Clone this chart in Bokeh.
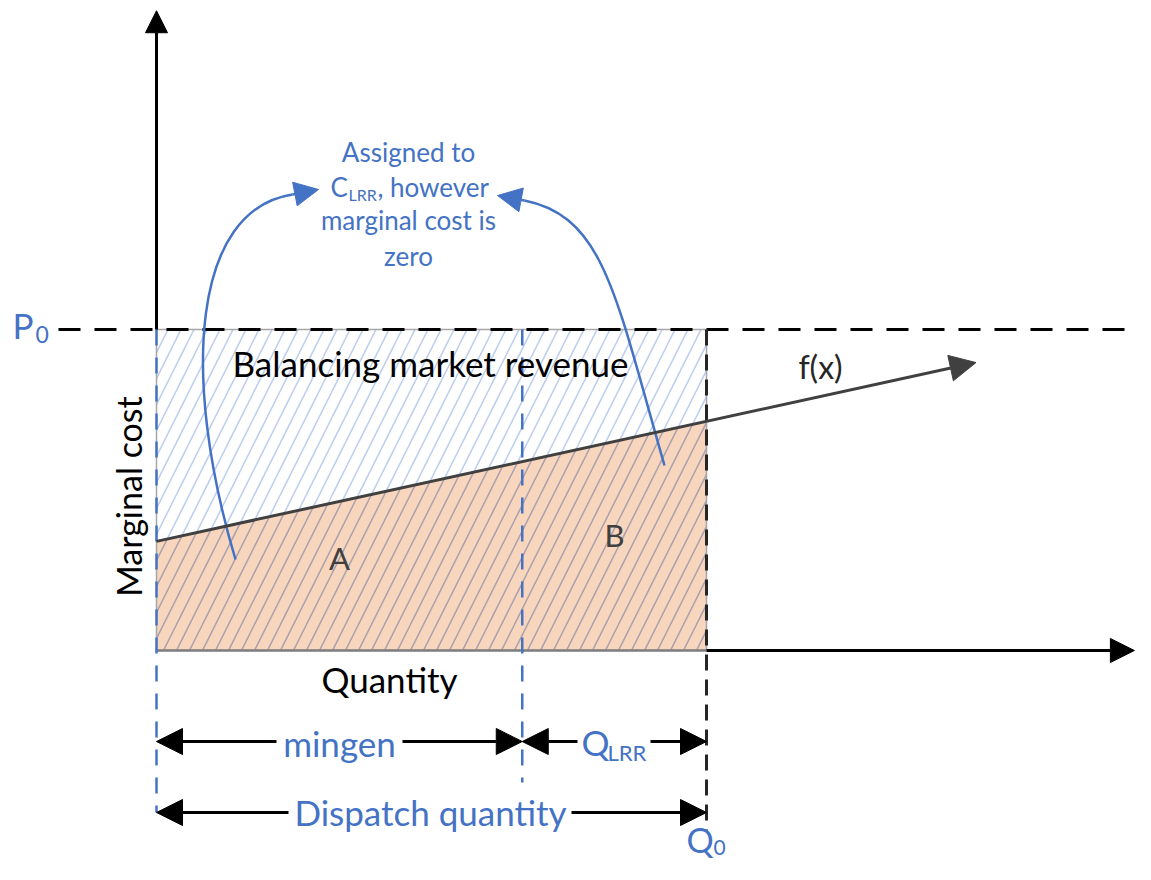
import math
from bokeh.plotting import figure
from bokeh.models import Range1d, Arrow, NormalHead
from bokeh.core.properties import value
from bokeh.embed import file_html
from bokeh.resources import INLINE

# ---------------- data (conceptual units) ----------------
Q0 = 10.0            # dispatch quantity
mingen_q = 6.65      # minimum generation
P0 = 10.0            # balancing price
f_q = [0.0, 10.0, 14.9]     # quantity points on marginal cost curve f(x)
f_p = [3.4, 7.13, 8.97]     # marginal cost at those points
axis_q_max = 17.78
axis_p_max = 19.93

annot_lines = ["Assigned to", "marginal cost is", "zero"]

# ---------------- layout helpers (reference pixel -> data) ----------------
OX, OY, SX, SY = 156.0, 650.0, 55.0, 32.1
def X(px):
    return (px - OX) / SX
def Y(py):
    return (OY - py) / SY

BLUE = "#4472c4"
FONT = value("Lato")

p = figure(width=1135, height=864,
           x_range=Range1d(X(0), X(1135)), y_range=Range1d(Y(864), Y(0)),
           x_axis_type=None, y_axis_type=None,
           output_backend="svg", toolbar_location=None, min_border=0)
p.grid.visible = False
p.outline_line_color = None
p.background_fill_color = "white"

# hatched revenue rectangle
p.patch([0, Q0, Q0, 0], [0, 0, P0, P0], fill_color="white", line_color=None,
        hatch_pattern="/", hatch_color="#bccdec", hatch_scale=26, hatch_weight=1.5)
# cost area under f(x)
p.patch([0, 0, Q0, Q0], [0, f_p[0], f_p[1], 0], fill_color="#f8d5bd", line_color=None,
        hatch_pattern="/", hatch_color="#aaa0ab", hatch_scale=26, hatch_weight=1.5)
# rectangle border
p.line([0, Q0, Q0, 0, 0], [0, 0, P0, P0, 0], line_color="#a6a6a6", line_width=1.5)
p.line([0, Q0], [0, 0], line_color="#7f7f7f", line_width=2.5)

# axes
p.add_layout(Arrow(x_start=0, y_start=P0, x_end=0, y_end=axis_p_max,
                   line_color="black", line_width=3,
                   end=NormalHead(size=22, fill_color="black", line_color="black")))
p.add_layout(Arrow(x_start=Q0, y_start=0, x_end=axis_q_max, y_end=0,
                   line_color="black", line_width=3,
                   end=NormalHead(size=24, fill_color="black", line_color="black")))

# P0 dashed line
p.line([X(58), X(1135)], [P0, P0], line_color="black", line_width=3, line_dash="22 14")

# vertical dashed guides
p.line([0, 0], [P0, Y(812)], line_color=BLUE, line_width=2.5, line_dash="16 12")
p.line([mingen_q, mingen_q], [P0, Y(782)], line_color=BLUE, line_width=2.5, line_dash="16 12")
p.line([Q0, Q0], [P0, Y(830)], line_color="#262626", line_width=3, line_dash="16 9")

# f(x)
p.add_layout(Arrow(x_start=f_q[0], y_start=f_p[0], x_end=f_q[2], y_end=f_p[2],
                   line_color="#404040", line_width=3,
                   end=NormalHead(size=26, fill_color="#404040", line_color="#404040")))

# dimension arrows
def dim(xs, xe, yy):
    p.add_layout(Arrow(x_start=xs, y_start=yy, x_end=xe, y_end=yy,
                       line_color="black", line_width=3,
                       end=NormalHead(size=26, fill_color="black", line_color="black")))
r1, r2 = Y(741), Y(812)
dim(X(276), 0, r1); dim(X(402), mingen_q, r1)
dim(X(577), mingen_q, r1); dim(X(650), Q0, r1)
dim(X(288), 0, r2); dim(X(571), Q0, r2)

# curved annotation arrows
p.bezier(x0=[X(235), X(664)], y0=[Y(559), Y(465)],
         x1=[X(292), X(524)], y1=[Y(194), Y(200)],
         cx0=[X(180), X(615)], cy0=[Y(375), Y(295)],
         cx1=[X(192), X(604)], cy1=[Y(209), Y(216)],
         line_color=BLUE, line_width=2.5)
p.add_layout(Arrow(x_start=X(292), y_start=Y(194), x_end=X(318), y_end=Y(189),
                   line_color=BLUE, line_width=2.5,
                   end=NormalHead(size=24, fill_color=BLUE, line_color=BLUE)))
p.add_layout(Arrow(x_start=X(524), y_start=Y(200), x_end=X(497), y_end=Y(195),
                   line_color=BLUE, line_width=2.5,
                   end=NormalHead(size=24, fill_color=BLUE, line_color=BLUE)))

# ---------------- texts ----------------
def txt(px, py, s, size, color="black", align="center", angle=0):
    p.text(x=[X(px)], y=[Y(py - 3)], text=[s], text_font=FONT, text_font_size=size,
           text_color=color, text_align=align, text_baseline="middle", angle=angle)

txt(430, 365, "Balancing market revenue", "35px")
txt(389, 681, "Quantity", "35px")
txt(128, 499, "Marginal cost", "34px", angle=math.pi / 2)
txt(820, 369, "f(x)", "32px", color="#262626")
txt(339, 560, "A", "31px", color="#404040")
txt(614, 537, "B", "31px", color="#404040")
txt(339, 745, "mingen", "35px", color=BLUE)
txt(430, 814, "Dispatch quantity", "35px", color=BLUE)
# Q_LRR
txt(581, 744, "Q", "35px", color=BLUE, align="left")
txt(607, 755, "LRR", "22px", color=BLUE, align="left")
# P0
txt(12, 327, "P", "35px", color=BLUE, align="left")
txt(35, 337, "0", "23px", color=BLUE, align="left")
# Q0
txt(686, 842, "Q", "34px", color=BLUE, align="left")
txt(713, 850, "0", "21px", color=BLUE, align="left")
# annotation
txt(408, 154, annot_lines[0], "26px", color=BLUE)
txt(330, 189, "C", "26px", color=BLUE, align="left")
txt(348, 197, "LRR", "16px", color=BLUE, align="left")
txt(377, 189, ", however", "26px", color=BLUE, align="left")
txt(408, 222, annot_lines[1], "26px", color=BLUE)
txt(408, 258, annot_lines[2], "26px", color=BLUE)

open("out.html", "w").write(file_html(p, INLINE))
